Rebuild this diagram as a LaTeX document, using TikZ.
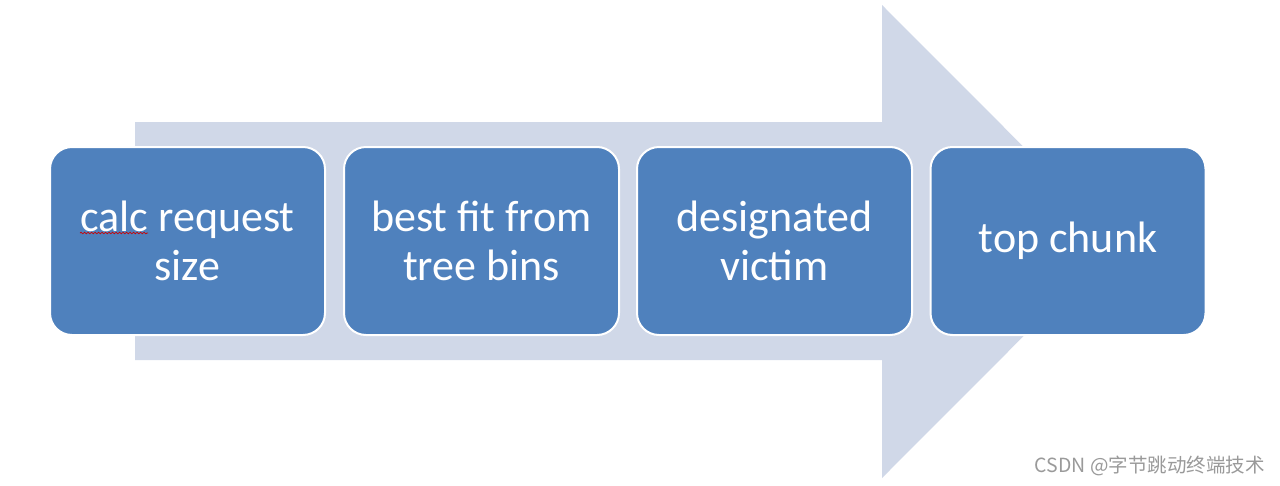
\documentclass[tikz,border=0pt]{standalone}
\usepackage{fontspec}
\setmainfont{Carlito}
\newfontfamily\cjk{Noto Sans CJK SC}
\usetikzlibrary{decorations.pathmorphing}
\definecolor{boxblue}{HTML}{4F81BD}
\definecolor{arrowc}{HTML}{D0D8E8}
\definecolor{wmgray}{HTML}{9A9A9A}
\tikzset{
  stepbox/.style={draw=white, line width=2pt, fill=boxblue, rounded corners=22pt,
    minimum width=275pt, minimum height=188pt, inner sep=0pt, align=center,
    text=white, font=\fontsize{44}{49}\selectfont},
  bigarrow/.style={fill=arrowc},
  wmark/.style={text=wmgray, font=\cjk\fontsize{19.5}{21}\selectfont, anchor=east, inner sep=0pt}
}
\begin{document}
\begin{tikzpicture}[x=1pt,y=-1pt]
\useasboundingbox (0,0) rectangle (1280,485);
\fill[white] (0,0) rectangle (1280,485);
\fill[bigarrow] (135,122) -- (882,122) -- (882,5) -- (1118,241.5) -- (882,478) -- (882,360) -- (135,360) -- cycle;
\node[stepbox] (s1) at (187.5,241) {calc request\\size};
\node[stepbox] (s2) at (481.5,241) {best fit from\\tree bins};
\node[stepbox] (s3) at (774.5,241) {designated\\victim};
\node[stepbox] (s4) at (1068,241) {top chunk};
\draw[red!80!black, line width=0.7pt, decorate, decoration={snake, amplitude=0.8pt, segment length=3.5pt}] (80,233) -- (148,233);
\node[wmark] (wm) at (1265,466) {CSDN @字节跳动终端技术};
\end{tikzpicture}
\end{document}
